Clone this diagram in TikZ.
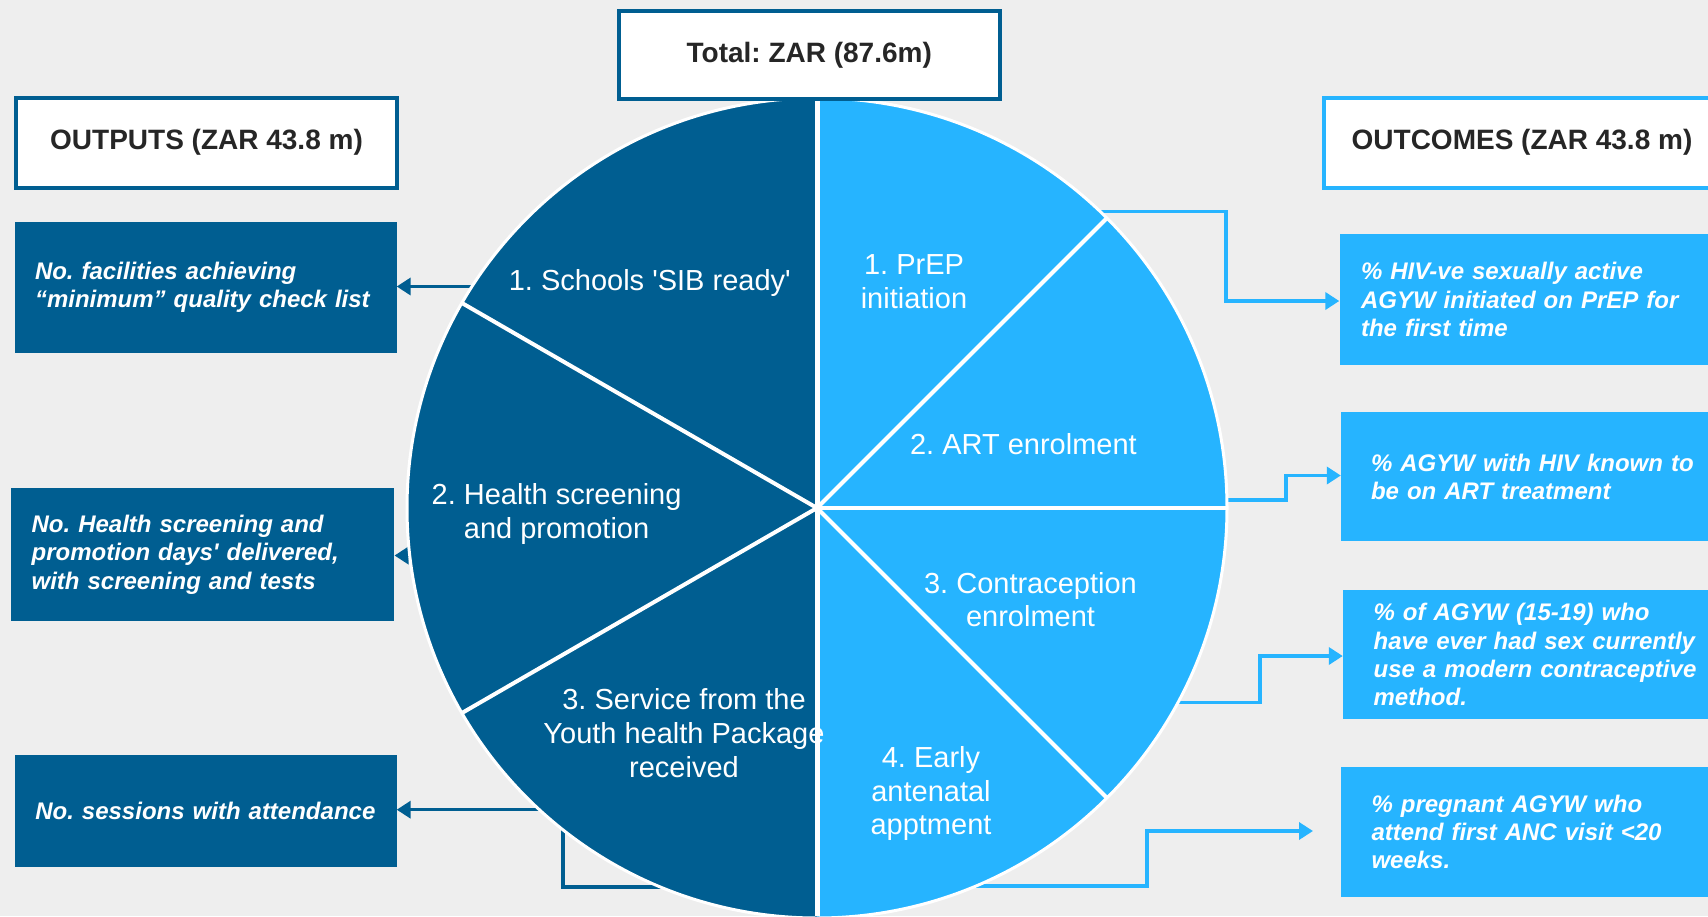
\documentclass[tikz,border=0pt]{standalone}
\usepackage{fontspec}
\newfontfamily\arial{Liberation Sans}
\usetikzlibrary{arrows.meta,calc}
\definecolor{bg}{HTML}{EEEEEE}
\definecolor{dkblue}{HTML}{005E91}
\definecolor{ltblue}{HTML}{26B4FF}
\definecolor{hdtext}{HTML}{262626}
\frenchspacing
\hyphenpenalty=10000
\begin{document}
\begin{tikzpicture}[x=1pt,y=-1pt,
  hdr/.style={draw=#1, line width=4pt, fill=white, text=hdtext, inner sep=0pt,
    font=\arial\bfseries\fontsize{28}{32}\selectfont},
  ibox/.style={fill=#1, text=white, inner ysep=0pt, align=left,
    font=\arial\bfseries\itshape\fontsize{24}{28.3}\selectfont},
  plabel/.style={text=white, align=center, inner sep=0pt,
    font=\arial\fontsize{29}{33.8}\selectfont},
  dconn/.style={draw=dkblue, line width=3.5pt, -{Triangle[length=14pt,width=17pt]}},
  lconn/.style={draw=ltblue, line width=3.5pt, -{Triangle[length=14pt,width=17pt]}},
  sep/.style={draw=white, line width=4pt}
]
\useasboundingbox (0,0) rectangle (1708,916);
\fill[bg] (0,0) rectangle (1708,916);

% side boxes
\node[hdr=dkblue, minimum width=380.5pt, minimum height=89.6pt] (outputs) at (206.5,142.7) {OUTPUTS (ZAR 43.8 m)};
\node[hdr=ltblue, minimum width=396pt, minimum height=89.5pt] (outcomes) at (1522,142.75) {OUTCOMES (ZAR 43.8 m)};

\node[ibox=dkblue, inner xsep=19.7pt, text width=341.8pt, minimum height=130.8pt] (lb1) at (205.9,287.6)
  {No. facilities achieving\\“minimum” quality check list};
\node[ibox=dkblue, inner xsep=20.7pt, text width=342pt, minimum height=133pt] (lb2) at (202.6,554.5)
  {No. Health screening and\\promotion days' delivered,\\with screening and tests};
\node[ibox=dkblue, inner xsep=20pt, text width=341.2pt, minimum height=112pt] (lb3) at (205.9,811)
  {No. sessions with attendance};

\node[ibox=ltblue, inner xsep=21.5pt, text width=378pt, minimum height=131pt] (rb1) at (1550,299.5)
  {\% HIV-ve sexually active\\AGYW initiated on PrEP for\\the first time};
\node[ibox=ltblue, inner xsep=30pt, text width=359pt, minimum height=129.6pt] (rb2) at (1550.5,476.6)
  {\% AGYW with HIV known to\\be on ART treatment};
\node[ibox=ltblue, inner xsep=30.6pt, text width=355.8pt, minimum height=128.6pt] (rb3) at (1551.5,654.7)
  {\% of AGYW (15-19) who\\have ever had sex currently\\use a modern contraceptive\\method.};
\node[ibox=ltblue, inner xsep=30.5pt, text width=358pt, minimum height=129.5pt] (rb4) at (1550.5,831.75)
  {\% pregnant AGYW who\\attend first ANC visit <20\\weeks.};

% connectors (drawn before the pie so the pie hides their start)
\coordinate (l1s) at (560,286.5);
\coordinate (l2s) at (450,555.5);
\coordinate (l3s) at (680,887);
\coordinate (l3b) at (563,809.7);
\draw[dconn] (l1s) -- (l1s -| lb1.east);
\draw[dconn] (l2s) -- (l2s -| lb2.east);
\draw[dconn] (l3s) -| (l3b) -- (l3b -| lb3.east);

\coordinate (r1s) at (1080,211.3);
\coordinate (r1b) at (1226,301);
\coordinate (r2s) at (1180,500);
\coordinate (r2b) at (1286,475.5);
\coordinate (r3s) at (1050,702.6);
\coordinate (r3b) at (1260,656);
\coordinate (r4s) at (900,886);
\coordinate (r4b) at (1147,831);
\coordinate (r4t) at (1313,831);
\draw[lconn] (r1s) -| (r1b) -- (r1b -| rb1.west);
\draw[lconn] (r2s) -| (r2b) -- (r2b -| rb2.west);
\draw[lconn] (r3s) -| (r3b) -- (r3b -| rb3.west);
\draw[lconn] (r4s) -| (r4b) -- (r4t);

% pie
\coordinate (C) at (817,508);
\fill[dkblue] (C) -- ($(C)+(90:410)$) arc[start angle=90, end angle=270, radius=410] -- cycle;
\fill[ltblue] (C) -- ($(C)+(-90:410)$) arc[start angle=-90, end angle=90, radius=410] -- cycle;
\draw[draw=white, line width=3pt] (C) circle[radius=410];
\draw[sep] (C) -- ($(C)+(210:410)$);
\draw[sep] (C) -- ($(C)+(150:410)$);
\draw[sep] (C) -- ($(C)+(-45:410)$);
\draw[sep] (C) -- ($(C)+(0:410)$);
\draw[sep] (C) -- ($(C)+(45:410)$);
\coordinate (vtop) at (817,100);
\coordinate (vbot) at (817,916);
\draw[draw=white, line width=5pt] (vtop) -- (vbot);

% total header on top of the pie
\node[hdr=dkblue, minimum width=381.5pt, minimum height=88.6pt] (total) at (809.25,55) {Total: ZAR (87.6m)};

% pie labels
\node[plabel] (s1) at (649.8,283.2) {1. Schools 'SIB ready'};
\node[plabel] (s2) at (556.6,513.6) {2. Health screening\\and promotion};
\node[plabel] (s3) at (684,733) {3. Service from the\\Youth health Package\\received};
\node[plabel] (t1) at (914,281.6) {1. PrEP\\initiation};
\node[plabel] (t2) at (1023.4,444.4) {2. ART enrolment};
\node[plabel] (t3) at (1030.5,599.7) {3. Contraception\\enrolment};
\node[plabel] (t4) at (931,793.6) {4. Early\\antenatal\\apptment};
\end{tikzpicture}
\end{document}
